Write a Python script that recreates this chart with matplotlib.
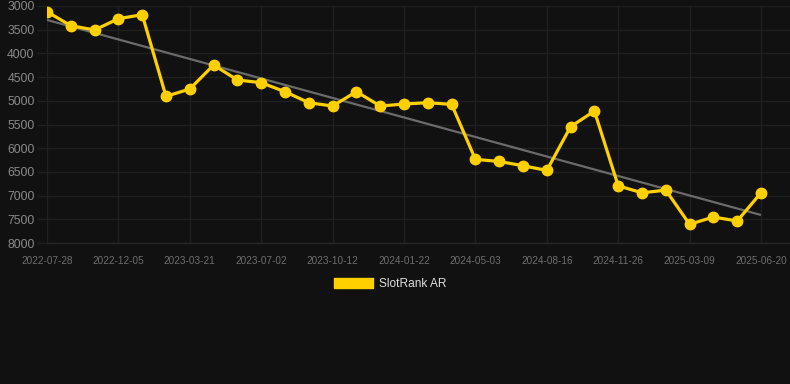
import matplotlib
matplotlib.use("Agg")
import matplotlib.pyplot as plt
from matplotlib.patches import Patch
import numpy as np

# Data (rank values, category axis with 31 points)
values = [3120, 3415, 3506, 3268, 3183, 4906, 4751, 4245, 4561, 4618,
          4808, 5040, 5110, 4808, 5110, 5068, 5040, 5075, 6236, 6279,
          6370, 6469, 5547, 5216, 6793, 6941, 6885, 7606, 7452, 7536, 6941]
tick_labels = ["2022-07-28", "2022-12-05", "2023-03-21", "2023-07-02",
               "2023-10-12", "2024-01-22", "2024-05-03", "2024-08-16",
               "2024-11-26", "2025-03-09", "2025-06-20"]
y_ticks = [3000, 3500, 4000, 4500, 5000, 5500, 6000, 6500, 7000, 7500, 8000]
series_name = "SlotRank AR"

BG = "#111111"
GRID = "#202020"
LINE = "#FFD000"

plt.rcParams['font.family'] = ['Liberation Sans', 'DejaVu Sans']

W, H = 790, 384
fig = plt.figure(figsize=(W / 100, H / 100), dpi=100, facecolor=BG)
left, right, top, bottom = 47, 790, 6, 243
ax = fig.add_axes([left / W, 1 - bottom / H, (right - left) / W, (bottom - top) / H])
ax.set_facecolor(BG)

x = np.arange(len(values))
n = len(values)
px_per = (761 - 47) / (n - 1)
ax.set_xlim(0, (n - 1) + (right - 761) / px_per)
ax.set_ylim(8000, 3000)

# trend line (linear regression)
coef = np.polyfit(x, values, 1)
ax.plot(x, np.polyval(coef, x), color="#6b6b6b", lw=1.6, zorder=2, solid_capstyle='butt')

ax.plot(x, values, color=LINE, lw=2.3, marker='o', markersize=7.5,
        markerfacecolor=LINE, markeredgecolor=LINE, zorder=3)

ax.set_yticks(y_ticks)
ax.set_yticklabels([str(v) for v in y_ticks])
ax.set_xticks(x[::3])
ax.set_xticklabels(tick_labels)

ax.grid(True, color=GRID, lw=1.0)
ax.set_axisbelow(True)
for s in ['top', 'right', 'left']:
    ax.spines[s].set_visible(False)
ax.spines['bottom'].set_color("#262626")
ax.spines['bottom'].set_linewidth(1.0)

ax.tick_params(axis='y', length=7, color=GRID, width=1.0, labelsize=8.8,
               labelcolor="#8a8a8a", pad=2)
ax.tick_params(axis='x', length=0, labelsize=7.2, labelcolor="#6e6e6e", pad=9)

leg = fig.legend(handles=[Patch(facecolor=LINE, edgecolor=LINE)], labels=[series_name],
                 loc='center', bbox_to_anchor=(0.494, 1 - 284 / H), frameon=False,
                 fontsize=8.6, handlelength=3.3, handleheight=1.0, handletextpad=0.5)
for t in leg.get_texts():
    t.set_color("#dddddd")

fig.savefig("out.png", dpi=100, facecolor=BG)
